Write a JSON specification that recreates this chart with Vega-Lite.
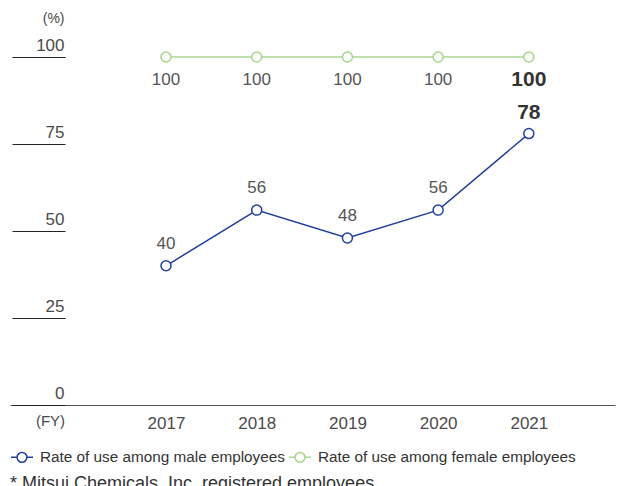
{
  "$schema": "https://vega.github.io/schema/vega-lite/v6.json",
  "width": 605,
  "height": 348,
  "autosize": "none",
  "padding": {"left": 10, "top": 57, "right": 15, "bottom": 81},
  "config": {
    "font": "Liberation Sans",
    "view": {"stroke": null},
    "axis": {"labelFont": "Liberation Sans", "titleFont": "Liberation Sans"},
    "legend": {"labelFont": "Liberation Sans"}
  },
  "data": {
    "values": [
      {"year": 2017, "series": "Rate of use among male employees", "rate": 40},
      {"year": 2018, "series": "Rate of use among male employees", "rate": 56},
      {"year": 2019, "series": "Rate of use among male employees", "rate": 48},
      {"year": 2020, "series": "Rate of use among male employees", "rate": 56},
      {"year": 2021, "series": "Rate of use among male employees", "rate": 78},
      {"year": 2017, "series": "Rate of use among female employees", "rate": 100},
      {"year": 2018, "series": "Rate of use among female employees", "rate": 100},
      {"year": 2019, "series": "Rate of use among female employees", "rate": 100},
      {"year": 2020, "series": "Rate of use among female employees", "rate": 100},
      {"year": 2021, "series": "Rate of use among female employees", "rate": 100}
    ]
  },
  "encoding": {
    "x": {
      "field": "year",
      "type": "quantitative",
      "scale": {"domain": [2015.28, 2021.95], "nice": false, "zero": false},
      "axis": {
        "values": [2017, 2018, 2019, 2020, 2021],
        "format": "d",
        "grid": false,
        "ticks": false,
        "domain": true,
        "domainColor": "#555555",
        "domainWidth": 1.2,
        "labelFontSize": 17,
        "labelColor": "#4a4a4a",
        "labelPadding": 10,
        "title": "(FY)",
        "titleFontSize": 15,
        "titleFontWeight": "normal",
        "titleColor": "#4a4a4a",
        "titleX": 40,
        "titleY": 15,
        "titleAlign": "center",
        "titleBaseline": "middle"
      }
    },
    "y": {
      "field": "rate",
      "type": "quantitative",
      "scale": {"domain": [0, 100], "nice": false},
      "axis": {
        "orient": "left",
        "offset": -55,
        "values": [0, 25, 50, 75, 100],
        "grid": false,
        "domain": false,
        "tickSize": 53,
        "tickColor": "#222222",
        "tickWidth": 1.2,
        "labelAlign": "right",
        "labelBaseline": "alphabetic",
        "labelPadding": -52,
        "labelOffset": -7,
        "labelFontSize": 17,
        "labelColor": "#4a4a4a",
        "title": "(%)",
        "titleAngle": 0,
        "titleFontSize": 14,
        "titleFontWeight": "normal",
        "titleColor": "#4a4a4a",
        "titleAlign": "right",
        "titleBaseline": "middle",
        "titleX": -1,
        "titleY": -39
      }
    },
    "color": {
      "field": "series",
      "type": "nominal",
      "scale": {
        "domain": ["Rate of use among male employees", "Rate of use among female employees"],
        "range": ["#1f3f9e", "#a8d58e"]
      },
      "legend": {
        "orient": "none",
        "legendX": 0,
        "legendY": 388,
        "direction": "horizontal",
        "title": null,
        "symbolType": "M-1,0H-0.45M0.45,0H1M-0.45,0A0.45,0.45 0 1,0 0.45,0A0.45,0.45 0 1,0 -0.45,0",
        "symbolSize": 484,
        "symbolStrokeWidth": 1.5,
        "symbolFillColor": "white",
        "labelFontSize": 15.3,
        "labelColor": "#333333",
        "labelLimit": 0,
        "labelOffset": 6,
        "columnPadding": 1
      }
    }
  },
  "layer": [
    {"mark": {"type": "line", "strokeWidth": 1.5}},
    {
      "mark": {"type": "point", "shape": "circle", "size": 100, "filled": false, "fill": "white", "strokeWidth": 1.5, "opacity": 1}
    },
    {
      "transform": [{"filter": "datum.series == 'Rate of use among male employees' && datum.year < 2021"}],
      "mark": {"type": "text", "dy": -22, "fontSize": 17, "baseline": "middle"},
      "encoding": {"text": {"field": "rate", "type": "quantitative"}, "color": {"value": "#555555"}}
    },
    {
      "transform": [{"filter": "datum.series == 'Rate of use among female employees' && datum.year < 2021"}],
      "mark": {"type": "text", "dy": 23, "fontSize": 17, "baseline": "middle"},
      "encoding": {"text": {"field": "rate", "type": "quantitative"}, "color": {"value": "#555555"}}
    },
    {
      "transform": [{"filter": "datum.series == 'Rate of use among male employees' && datum.year == 2021"}],
      "mark": {"type": "text", "dy": -21, "fontSize": 21, "fontWeight": "bold", "baseline": "middle"},
      "encoding": {"text": {"field": "rate", "type": "quantitative"}, "color": {"value": "#333333"}}
    },
    {
      "transform": [{"filter": "datum.series == 'Rate of use among female employees' && datum.year == 2021"}],
      "mark": {"type": "text", "dy": 23, "fontSize": 21, "fontWeight": "bold", "baseline": "middle"},
      "encoding": {"text": {"field": "rate", "type": "quantitative"}, "color": {"value": "#333333"}}
    },
    {
      "data": {"values": [{"note": "* Mitsui Chemicals, Inc. registered employees", "nx": 2015.28, "ny": -22.6}]},
      "mark": {"type": "text", "align": "left", "baseline": "middle", "fontSize": 18, "clip": false},
      "encoding": {
        "x": {"field": "nx", "type": "quantitative"},
        "y": {"field": "ny", "type": "quantitative"},
        "text": {"field": "note"},
        "color": {"value": "#333333"}
      }
    }
  ]
}
